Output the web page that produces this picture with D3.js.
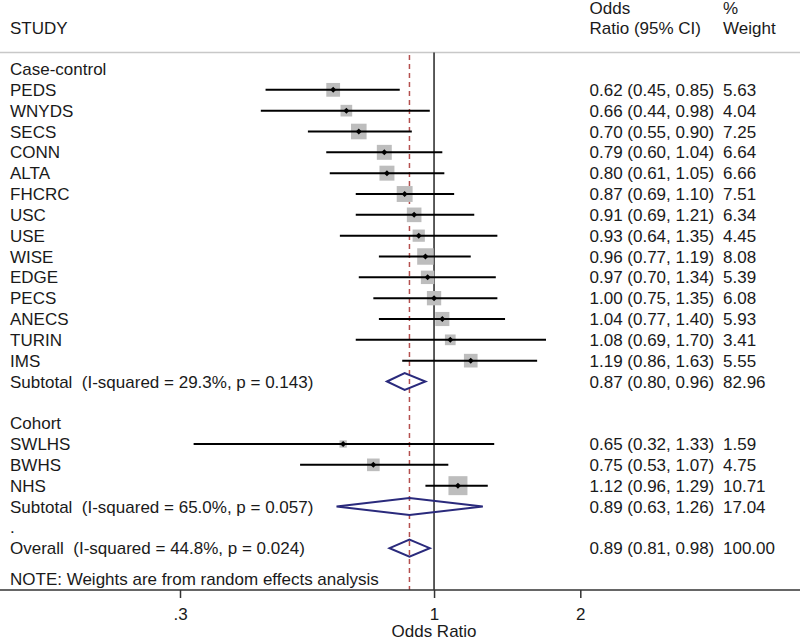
<!DOCTYPE html>
<html>
<head>
<meta charset="utf-8">
<script src="https://cdn.jsdelivr.net/npm/d3@7"></script>
<style>
  html, body { margin: 0; padding: 0; background: #fff; }
  svg { display: block; font-family: "Liberation Sans", Arial, sans-serif; }
  svg text { white-space: pre; }
</style>
</head>
<body>
<svg id="chart" width="800" height="640"></svg>
<script>
// ---- data ----
const caseStudies = ["PEDS","WNYDS","SECS","CONN","ALTA","FHCRC","USC","USE","WISE","EDGE","PECS","ANECS","TURIN","IMS"];
const caseOR      = [0.62,0.66,0.70,0.79,0.80,0.87,0.91,0.93,0.96,0.97,1.00,1.04,1.08,1.19];
const caseLo      = [0.45,0.44,0.55,0.60,0.61,0.69,0.69,0.64,0.77,0.70,0.75,0.77,0.69,0.86];
const caseHi      = [0.85,0.98,0.90,1.04,1.05,1.10,1.21,1.35,1.19,1.34,1.35,1.40,1.70,1.63];
const caseWeight  = [5.63,4.04,7.25,6.64,6.66,7.51,6.34,4.45,8.08,5.39,6.08,5.93,3.41,5.55];

const cohortStudies = ["SWLHS","BWHS","NHS"];
const cohortOR      = [0.65,0.75,1.12];
const cohortLo      = [0.32,0.53,0.96];
const cohortHi      = [1.33,1.07,1.29];
const cohortWeight  = [1.59,4.75,10.71];

const summaryLabels = ["Subtotal  (I-squared = 29.3%, p = 0.143)","Subtotal  (I-squared = 65.0%, p = 0.057)","Overall  (I-squared = 44.8%, p = 0.024)"];
const summaryOR     = [0.87,0.89,0.89];
const summaryLo     = [0.80,0.63,0.81];
const summaryHi     = [0.96,1.26,0.98];
const summaryWeight = [82.96,17.04,100.00];

const groupLabels = ["Case-control","Cohort"];
const tickValues = [0.3,1,2];
const tickLabels = [".3","1","2"];
const noteText = "NOTE: Weights are from random effects analysis";

// ---- build rows ----
const rows = [];
rows.push({type:"group", label:groupLabels[0]});
caseStudies.forEach((s,i)=>rows.push({type:"study", label:s, or:caseOR[i], lo:caseLo[i], hi:caseHi[i], w:caseWeight[i]}));
rows.push({type:"summary", label:summaryLabels[0], or:summaryOR[0], lo:summaryLo[0], hi:summaryHi[0], w:summaryWeight[0]});
rows.push({type:"blank", label:""});
rows.push({type:"group", label:groupLabels[1]});
cohortStudies.forEach((s,i)=>rows.push({type:"study", label:s, or:cohortOR[i], lo:cohortLo[i], hi:cohortHi[i], w:cohortWeight[i]}));
rows.push({type:"summary", label:summaryLabels[1], or:summaryOR[1], lo:summaryLo[1], hi:summaryHi[1], w:summaryWeight[1]});
rows.push({type:"blank", label:"."});
rows.push({type:"summary", label:summaryLabels[2], or:summaryOR[2], lo:summaryLo[2], hi:summaryHi[2], w:summaryWeight[2]});

const svg = d3.select("#chart");
const textColor = "#1a1a1a";
const fs = 17;

const x = d3.scaleLog().domain([0.3, 2]).range([180, 580.3]);
const y = d3.scaleLinear().domain([0, 24]).range([69, 569]);
const boxSide = d3.scaleSqrt().domain([0, 1]).range([0, 5.8]);
const f2 = d3.format(".2f");

const axisY = 590;
const headerLineY = 52.5;
const colEst = 589.5, colW = 723, colStudy = 10;

// header
const hdr = svg.append("g").attr("fill", textColor).attr("font-size", fs);
hdr.append("text").attr("x", colStudy).attr("y", 34).text("STUDY");
hdr.append("text").attr("x", colEst).attr("y", 14).text("Odds");
hdr.append("text").attr("x", colEst).attr("y", 34).text("Ratio (95% CI)");
hdr.append("text").attr("x", colW).attr("y", 14).text("%");
hdr.append("text").attr("x", colW).attr("y", 34).text("Weight");

svg.append("line").attr("x1", 0).attr("x2", 800).attr("y1", headerLineY).attr("y2", headerLineY)
  .attr("stroke", "#c8c8c8").attr("stroke-width", 1.5);

// reference lines
svg.append("line").attr("x1", x(1)).attr("x2", x(1)).attr("y1", headerLineY).attr("y2", axisY)
  .attr("stroke", "#333").attr("stroke-width", 1.6);
svg.append("line").attr("x1", x(summaryOR[2])).attr("x2", x(summaryOR[2])).attr("y1", 55).attr("y2", axisY)
  .attr("stroke", "#b5504f").attr("stroke-width", 1.5).attr("stroke-dasharray", "5,4");

// rows
const g = svg.append("g");
rows.forEach((r, i) => {
  const cy = y(i);
  if (r.label) {
    g.append("text").attr("x", colStudy).attr("y", cy + 6).attr("font-size", fs).attr("fill", textColor).text(r.label);
  }
  if (r.type === "study") {
    const s = boxSide(r.w);
    g.append("rect").attr("x", x(r.or) - s/2).attr("y", cy - s/2).attr("width", s).attr("height", s).attr("fill", "#bdbdbd");
    g.append("line").attr("x1", x(r.lo)).attr("x2", x(r.hi)).attr("y1", cy).attr("y2", cy)
      .attr("stroke", "#000").attr("stroke-width", 2);
    const d = 3;
    g.append("path").attr("d", `M${x(r.or)-d},${cy}L${x(r.or)},${cy-d}L${x(r.or)+d},${cy}L${x(r.or)},${cy+d}Z`).attr("fill", "#000");
  }
  if (r.type === "summary") {
    const h = 8.5;
    g.append("path").attr("d", `M${x(r.lo)},${cy}L${x(r.or)},${cy-h}L${x(r.hi)},${cy}L${x(r.or)},${cy+h}Z`)
      .attr("fill", "none").attr("stroke", "#2a2a7c").attr("stroke-width", 2);
  }
  if (r.type === "study" || r.type === "summary") {
    g.append("text").attr("x", colEst).attr("y", cy + 6).attr("font-size", fs).attr("fill", textColor)
      .text(`${f2(r.or)} (${f2(r.lo)}, ${f2(r.hi)})`);
    g.append("text").attr("x", colW).attr("y", cy + 6).attr("font-size", fs).attr("fill", textColor)
      .text(f2(r.w));
  }
});

// note
svg.append("text").attr("x", colStudy).attr("y", y(24.5) + 6).attr("font-size", fs).attr("fill", textColor).text(noteText);

// axis
svg.append("line").attr("x1", 0).attr("x2", 800).attr("y1", axisY).attr("y2", axisY).attr("stroke", "#333").attr("stroke-width", 1.5);
const axis = d3.axisBottom(x).tickValues(tickValues).tickFormat((d,i)=>tickLabels[i]).tickSize(8).tickPadding(10);
const ag = svg.append("g").attr("transform", `translate(0,${axisY})`).call(axis);
ag.select(".domain").remove();
ag.selectAll(".tick line").attr("stroke", "#333").attr("stroke-width", 1.5);
ag.selectAll(".tick text").attr("font-size", fs).attr("fill", textColor).attr("font-family", "Liberation Sans, Arial, sans-serif");

svg.append("text").attr("x", x(1)).attr("y", 637).attr("text-anchor", "middle").attr("font-size", fs).attr("fill", textColor).text("Odds Ratio");
</script>
</body>
</html>
